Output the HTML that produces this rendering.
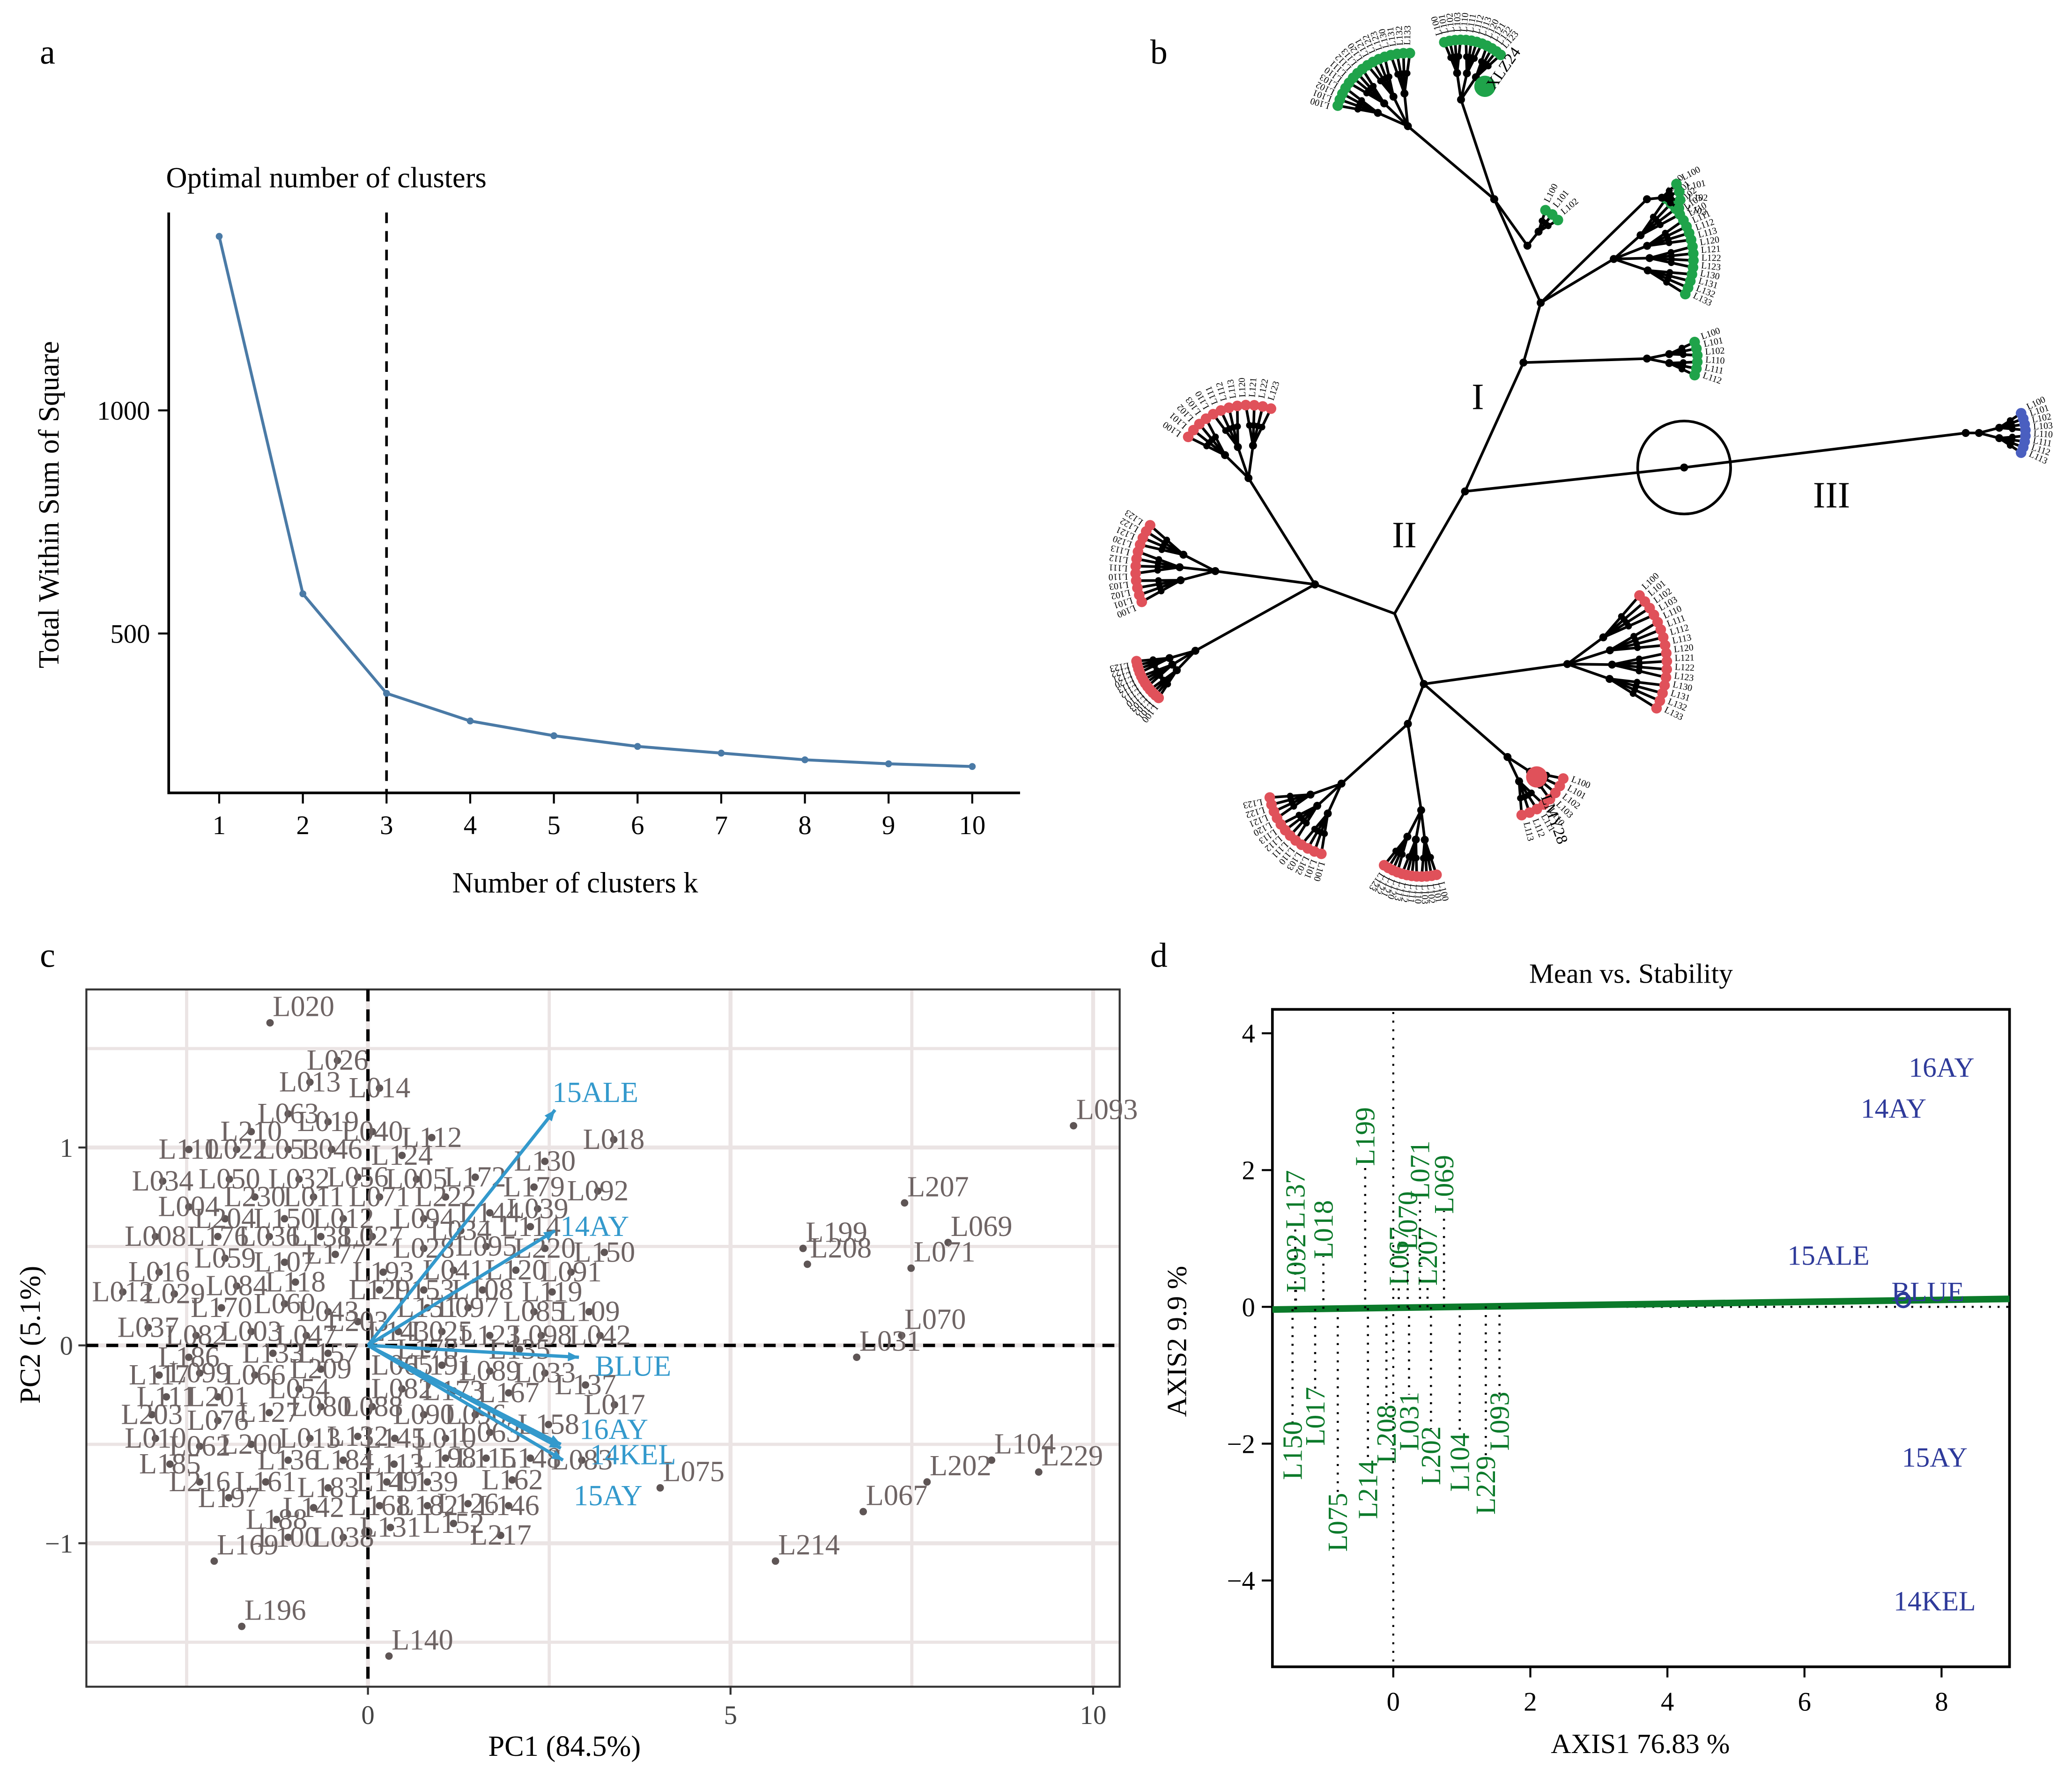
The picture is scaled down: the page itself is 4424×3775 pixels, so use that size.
<!DOCTYPE html>
<html><head><meta charset="utf-8"><style>
html,body{margin:0;padding:0;background:#fff;}
svg{display:block;font-family:"Liberation Serif",serif;}
</style></head><body>
<svg id="fig" xmlns="http://www.w3.org/2000/svg" width="4424" height="3775" viewBox="0 0 1560 1331.2">
<rect x="0" y="0" width="1560" height="1332" fill="#fff"/>
<g id="pa"></g>
<g id="pb"></g>
<g id="pc"></g>
<g id="pd"></g>
</svg>
<script>
// ---------- Panel a data ----------
const kValues = [1,2,3,4,5,6,7,8,9,10];
const wssValues = [1390,589,366,304,271,247,232,217,208,202];
const aXTicks = [1,2,3,4,5,6,7,8,9,10];
const aYTicks = [500,1000];
const optimalK = 3;

// ---------- Panel c data ----------
const pcLabels = ["L020","L026","L013","L014","L063","L019","L040","L210","L112","L110","L022","L053","L046","L124","L034","L050","L032","L056","L005","L172","L130","L179","L004","L230","L011","L071b","L222","L039","L204","L150b","L012b","L094","L144","L034b","L114","L008","L176","L036","L138","L027","L028","L095","L220","L150","L059","L107","L177","L193","L041","L120","L091","L016","L084","L118","L129","L153","L108","L119","L012","L029","L170","L060","L043","L203b","L151","L097","L085","L109","L037","L082","L003","L047","L143","L025","L123","L098","L042","L186","L133","L157","L178","L135","L117","L099","L066","L209","L065","L191","L089","L033","L137","L111","L201","L054","L082b","L173","L167","L017","L203","L076","L127","L080","L088","L090","L096","L158","L010","L062","L200","L013b","L132","L145","L010c","L063b","L185","L136","L184","L113","L198","L115","L148","L083","L216","L161","L183","L149","L139","L162","L197","L142","L168","L182","L126","L146","L188","L131","L152","L217","L100","L038","L169","L196","L140","L093","L018","L092","L207","L069","L199","L208","L071","L070","L031","L104","L229","L202","L067","L075","L214"];
const pcX = [-1.35,-0.42,-0.80,0.16,-1.10,-0.55,0.06,-1.61,0.88,-2.47,-1.81,-1.10,-0.50,0.47,-2.83,-1.91,-0.95,-0.14,0.67,1.48,2.44,2.29,-2.47,-1.56,-0.75,0.16,1.07,2.34,-1.97,-1.15,-0.34,0.77,1.68,1.28,2.24,-2.93,-2.07,-1.36,-0.65,0.06,0.77,1.63,2.44,3.26,-1.97,-1.15,-0.45,0.21,1.18,2.04,2.80,-2.88,-1.81,-1.00,0.16,0.77,1.58,2.54,-3.38,-2.67,-2.02,-1.15,-0.55,-0.14,0.82,1.38,2.29,3.05,-3.03,-2.37,-1.61,-0.85,0.42,1.02,1.68,2.39,3.20,-2.47,-1.31,-0.55,0.82,2.09,-2.88,-2.32,-1.56,-0.65,0.47,1.02,1.68,2.44,3.00,-2.78,-2.07,-0.95,0.47,1.18,1.94,3.40,-2.98,-2.07,-1.36,-0.65,0.06,0.77,1.48,2.49,-2.93,-2.32,-1.61,-0.80,-0.14,0.37,1.07,1.68,-2.73,-1.10,-0.34,0.36,1.07,1.63,2.24,2.95,-2.32,-1.41,-0.55,0.26,0.82,1.99,-1.92,-0.75,0.16,0.82,1.38,1.94,-1.26,0.31,1.18,1.83,-1.10,-0.34,-2.12,-1.74,0.29,9.73,3.39,3.17,7.40,8.00,6.00,6.06,7.49,7.36,6.74,8.60,9.25,7.71,6.83,4.03,5.62];
const pcY = [1.63,1.44,1.33,1.30,1.17,1.13,1.08,1.08,1.05,0.99,0.99,0.99,0.99,0.96,0.83,0.84,0.84,0.85,0.84,0.85,0.93,0.80,0.70,0.75,0.75,0.75,0.75,0.69,0.64,0.64,0.64,0.64,0.67,0.58,0.60,0.55,0.55,0.55,0.55,0.55,0.49,0.50,0.49,0.47,0.44,0.42,0.46,0.37,0.38,0.38,0.37,0.37,0.30,0.32,0.28,0.28,0.28,0.27,0.27,0.26,0.19,0.21,0.17,0.12,0.19,0.19,0.17,0.17,0.09,0.05,0.07,0.05,0.07,0.07,0.05,0.05,0.05,-0.06,-0.04,-0.04,-0.02,-0.02,-0.15,-0.14,-0.15,-0.12,-0.10,-0.10,-0.13,-0.14,-0.20,-0.26,-0.26,-0.22,-0.22,-0.23,-0.24,-0.30,-0.35,-0.38,-0.34,-0.31,-0.31,-0.35,-0.35,-0.40,-0.47,-0.51,-0.50,-0.47,-0.46,-0.47,-0.47,-0.44,-0.60,-0.58,-0.58,-0.60,-0.57,-0.57,-0.57,-0.58,-0.69,-0.69,-0.72,-0.69,-0.69,-0.68,-0.77,-0.82,-0.81,-0.81,-0.80,-0.81,-0.88,-0.92,-0.90,-0.96,-0.97,-0.97,-1.09,-1.42,-1.57,1.11,1.04,0.78,0.72,0.52,0.49,0.41,0.39,0.05,-0.06,-0.58,-0.64,-0.69,-0.84,-0.72,-1.09];
const envLabels = ["15ALE","14AY","BLUE","16AY","14KEL","15AY"];
const envX = [2.58,2.58,2.91,2.66,2.66,2.69];
const envY = [1.19,0.58,-0.06,-0.50,-0.52,-0.58];
const cXTicks = [0,5,10];
const cYTicks = [-1,0,1];

// ---------- Panel d data ----------
const dEnvLabels = ["16AY","14AY","15ALE","BLUE","15AY","14KEL"];
const dEnvX = [8.0,7.3,6.35,7.8,7.9,7.9];
const dEnvY = [3.5,2.9,0.75,0.22,-2.2,-4.3];
const dGenLabels = ["L199","L137","L092","L018","L067","L070","L207","L071","L069","L150","L017","L075","L214","L208","L031","L202","L104","L229","L093"];
const dGenX = [-0.41,-1.43,-1.42,-1.02,0.08,0.21,0.5,0.39,0.74,-1.47,-1.14,-0.81,-0.37,-0.1,0.23,0.55,0.97,1.35,1.55];
const dGenY = [2.49,1.57,0.64,1.13,0.74,1.26,0.74,2.0,1.79,-1.05*2,-0.8*2,-2.1*1.5,-1.67*1.6,-0.93*2,-0.76*2.2,-1.36*1.6,-1.42*1.6,-1.63*1.6,-0.76*2.2];
const dXTicks = [0,2,4,6,8];
const dYTicks = [-4,-2,0,2,4];

const NS="http://www.w3.org/2000/svg";
function mk(parent,tag,attrs,text){const e=document.createElementNS(NS,tag);for(const k in attrs)e.setAttribute(k,attrs[k]);if(text!==undefined)e.textContent=text;parent.appendChild(e);return e;}

// ===== Panel a =====
(function(){
const g=document.getElementById('pa');
const xa=k=>165+(k-1)*63, ya=v=>477-(v-500)*0.336;
let t=mk(g,'text',{x:30,y:48,'font-size':26},'a');


t=mk(g,'text',{x:125,y:141,'font-size':22},'Optimal number of clusters');


let ax=mk(g,'path',{d:'M127 160 V597 H768',fill:'none',stroke:'#000','stroke-width':2});


aXTicks.forEach(k=>{
 const l=mk(g,'line',{x1:xa(k),x2:xa(k),y1:597,y2:605,stroke:'#000','stroke-width':1.5});
 
 
 const tt=mk(g,'text',{x:xa(k),y:628,'font-size':20,'text-anchor':'middle'},String(k));
 
 
});
aYTicks.forEach(v=>{
 const l=mk(g,'line',{x1:119,x2:127,y1:ya(v),y2:ya(v),stroke:'#000','stroke-width':1.5});
 
 
 const tt=mk(g,'text',{x:113,y:ya(v)+7,'font-size':20,'text-anchor':'end'},String(v));
 
 
});
t=mk(g,'text',{x:433,y:672,'font-size':22,'text-anchor':'middle'},'Number of clusters k');


t=mk(g,'text',{x:0,y:0,'font-size':22,'text-anchor':'middle',transform:'translate(44,380) rotate(-90)'},'Total Within Sum of Square');


const dl=mk(g,'line',{x1:xa(optimalK),x2:xa(optimalK),y1:160,y2:597,stroke:'#000','stroke-width':2,'stroke-dasharray':'8,6'});


const pl=mk(g,'polyline',{points:kValues.map((k,i)=>xa(k)+','+ya(wssValues[i])).join(' '),fill:'none',stroke:'#4a7aa6','stroke-width':2.2});


kValues.forEach((k,i)=>{
 const c=mk(g,'circle',{cx:xa(k),cy:ya(wssValues[i]),r:2.6,fill:'#4a7aa6'});
 
 
});
})();

// ===== Panel b (tree diagram) =====
(function(){
const g=document.getElementById('pb');
let t=mk(g,'text',{x:866,y:48,'font-size':26},'b');


const seg=(a,b)=>mk(g,'line',{x1:a[0],y1:a[1],x2:b[0],y2:b[1],stroke:'#000','stroke-width':2});
const dot=(p,r,c)=>mk(g,'circle',{cx:p[0],cy:p[1],r:r,fill:c});
function clade(hub,center,n,rad,a0,a1,col,name){
 const cg=mk(g,'g',{});
 
 
 seg(hub,center);dot(hub,3,'#000');
 const groups=Math.max(1,Math.round(n/4));
 for(let gi=0;gi<groups;gi++){
  const ga=a0+(a1-a0)*(gi+0.5)/groups;
  const sub=[center[0]+rad*0.45*Math.cos(ga),center[1]+rad*0.45*Math.sin(ga)];
  seg(center,sub);dot(sub,3,'#000');
  const per=Math.ceil(n/groups);
  for(let j=0;j<per;j++){
   const la=a0+(a1-a0)*(gi+(j+0.5)/per)/groups;
   const lf=[center[0]+rad*Math.cos(la),center[1]+rad*Math.sin(la)];
   const mid=[(sub[0]+lf[0])/2,(sub[1]+lf[1])/2];
   seg(sub,mid);seg(mid,lf);dot(mid,2.5,'#000');dot(lf,4,col);
   const lx=lf[0]+6*Math.cos(la),ly=lf[1]+6*Math.sin(la);
   mk(g,'text',{x:lx,y:ly,'font-size':7,transform:`rotate(${la*180/Math.PI} ${lx} ${ly})`},'L'+(100+gi*10+j));
  }
 }
 dot(center,3,'#000');
}
const G='#1fa34a',R='#e0515a',B='#4a5fc0';
const root=[1103,370];
seg(root,[1268,352]);seg([1268,352],[1480,326]);
seg(root,[1147,273]);seg([1147,273],[1160,228]);seg([1160,228],[1125,150]);
seg(root,[1050,462]);seg([1050,462],[990,440]);seg([1050,462],[1072,515]);seg([1072,515],[1060,545]);
dot(root,3,'#000');dot([1268,352],3,'#000');
const circ=mk(g,'circle',{cx:1268,cy:352,r:35,fill:'none',stroke:'#000','stroke-width':2});


clade([1480,326],[1490,326],8,35,-0.5,0.5,B,'clade-iii');
clade([1147,273],[1240,270],6,38,-0.4,0.4,G,'clade-i-a');
clade([1160,228],[1215,195],14,60,-0.9,0.5,G,'clade-i-b');
clade([1160,228],[1240,150],4,25,-0.6,0.4,G,'clade-i-c');
clade([1125,150],[1150,185],3,30,-1.2,-0.6,G,'clade-i-d');
clade([1125,150],[1060,95],14,55,-2.9,-1.5,G,'clade-i-e');
clade([1125,150],[1100,75],10,45,-1.9,-0.8,G,'clade-i-f');
clade([990,440],[940,360],12,55,-2.6,-1.2,R,'clade-ii-a');
clade([990,440],[915,430],12,60,2.7,3.8,R,'clade-ii-b');
clade([990,440],[900,490],10,45,2.2,3.0,R,'clade-ii-c');
clade([1072,515],[1180,500],14,75,-0.8,0.5,R,'clade-ii-d');
clade([1072,515],[1135,570],8,45,0.3,1.4,R,'clade-ii-e');
clade([1060,545],[1010,590],12,55,1.8,3.0,R,'clade-ii-f');
clade([1060,545],[1070,610],10,50,1.3,2.2,R,'clade-ii-g');
dot([1157,585],8,R);dot([1118,65],8,G);
t=mk(g,'text',{x:1125,y:68,'font-size':12,transform:'rotate(-55 1125 68)'},'XLZ24');


t=mk(g,'text',{x:1160,y:600,'font-size':12,transform:'rotate(70 1160 600)'},'LMY28');


[['I',1108,308],['II',1048,412],['III',1365,382]].forEach(a=>{
 const tt=mk(g,'text',{x:a[1],y:a[2],'font-size':28},a[0]);
 
 
});
})();

// ===== Panel c =====
(function(){
const g=document.getElementById('pc');
const xc=v=>277+v*54.6, yc=v=>1013-v*149;
let t=mk(g,'text',{x:30,y:728,'font-size':26},'c');


[-2.5,0,2.5,5,7.5,10].forEach(v=>{const l=mk(g,'line',{x1:xc(v),x2:xc(v),y1:745,y2:1270,stroke:'#ebe4e4','stroke-width':v%5===0?3:2.4});});
[-1.5,-1,-0.5,0,0.5,1,1.5].forEach(v=>{const l=mk(g,'line',{x1:65,x2:843,y1:yc(v),y2:yc(v),stroke:'#ebe4e4','stroke-width':Number.isInteger(v)?3:2.4});});
let b=mk(g,'rect',{x:65,y:745,width:778,height:525,fill:'none',stroke:'#333','stroke-width':1.5});


mk(g,'line',{x1:xc(0),x2:xc(0),y1:745,y2:1270,stroke:'#000','stroke-width':2.5,'stroke-dasharray':'9,6'});
mk(g,'line',{x1:65,x2:843,y1:yc(0),y2:yc(0),stroke:'#000','stroke-width':2.5,'stroke-dasharray':'9,6'});
cXTicks.forEach(v=>{
 mk(g,'line',{x1:xc(v),x2:xc(v),y1:1270,y2:1276,stroke:'#333','stroke-width':1.5});
 const tt=mk(g,'text',{x:xc(v),y:1298,'font-size':20,'text-anchor':'middle',fill:'#444'},String(v));
 
 
});
cYTicks.forEach(v=>{
 mk(g,'line',{x1:59,x2:65,y1:yc(v),y2:yc(v),stroke:'#333','stroke-width':1.5});
 const tt=mk(g,'text',{x:55,y:yc(v)+7,'font-size':20,'text-anchor':'end',fill:'#444'},v<0?'\u2212'+(-v):String(v));
 
 
});
t=mk(g,'text',{x:425,y:1322,'font-size':22,'text-anchor':'middle'},'PC1 (84.5%)');


t=mk(g,'text',{x:0,y:0,'font-size':22,'text-anchor':'middle',transform:'translate(30,1005) rotate(-90)'},'PC2 (5.1%)');


pcLabels.forEach((lab,i)=>{
 const c=mk(g,'circle',{cx:xc(pcX[i]),cy:yc(pcY[i]),r:2.8,fill:'#5e5555'});
 
 
 const outer=pcX[i]>3.6||pcY[i]<-1||pcY[i]>1.5;
 const tt=mk(g,'text',{x:xc(pcX[i])+(outer?2:0),y:yc(pcY[i])+(outer?-5:7),'font-size':22,'text-anchor':outer?'start':'middle',fill:'#6e6464'},lab.replace(/[bc]$/,''));
 
 
});
envLabels.forEach((lab,i)=>{
 const x2=xc(envX[i]),y2=yc(envY[i]),x1=xc(0),y1=yc(0);
 const l=mk(g,'line',{x1:x1,y1:y1,x2:x2,y2:y2,stroke:'#3399cc','stroke-width':2.5});
 
 
 const a=Math.atan2(y2-y1,x2-x1);
 const p=[[x2,y2],[x2-9*Math.cos(a-0.4),y2-9*Math.sin(a-0.4)],[x2-9*Math.cos(a+0.4),y2-9*Math.sin(a+0.4)]];
 mk(g,'polygon',{points:p.map(q=>q.join(',')).join(' '),fill:'#3399cc'});
 const off={"15ALE":[-2,-6],"14AY":[4,4],"BLUE":[12,14],"16AY":[14,-4],"14KEL":[22,12],"15AY":[8,34]}[lab]||[4,4];
 const tt=mk(g,'text',{x:x2+off[0],y:y2+off[1],'font-size':22,fill:'#3399cc'},lab);
 
 
});
})();

// ===== Panel d =====
(function(){
const g=document.getElementById('pd');
const xd=v=>1049+v*51.6, yd=v=>984-v*51.5;
let t=mk(g,'text',{x:866,y:728,'font-size':26},'d');


t=mk(g,'text',{x:1228,y:740,'font-size':21,'text-anchor':'middle'},'Mean vs. Stability');


let b=mk(g,'rect',{x:958,y:760,width:555,height:495,fill:'none',stroke:'#000','stroke-width':2});


dXTicks.forEach(v=>{
 mk(g,'line',{x1:xd(v),x2:xd(v),y1:1255,y2:1263,stroke:'#000','stroke-width':1.5});
 const tt=mk(g,'text',{x:xd(v),y:1288,'font-size':20,'text-anchor':'middle'},String(v));
 
 
});
dYTicks.forEach(v=>{
 mk(g,'line',{x1:950,x2:958,y1:yd(v),y2:yd(v),stroke:'#000','stroke-width':1.5});
 const tt=mk(g,'text',{x:945,y:yd(v)+7,'font-size':20,'text-anchor':'end'},v<0?'\u2212'+(-v):String(v));
 
 
});
t=mk(g,'text',{x:1235,y:1320,'font-size':21,'text-anchor':'middle'},'AXIS1 76.83 %');


t=mk(g,'text',{x:0,y:0,'font-size':21,'text-anchor':'middle',transform:'translate(893,1010) rotate(-90)'},'AXIS2 9.9 %');


mk(g,'line',{x1:xd(0),x2:xd(0),y1:762,y2:1255,stroke:'#000','stroke-width':1.5,'stroke-dasharray':'1.5,5'});
mk(g,'line',{x1:xd(0),x2:1513,y1:yd(0),y2:yd(0),stroke:'#000','stroke-width':1.5,'stroke-dasharray':'1.5,5'});
const ax=mk(g,'line',{x1:958,y1:986,x2:1513,y2:978,stroke:'#0b7a2a','stroke-width':5});


const slope=(978-986)/(1513-958);
dGenLabels.forEach((lab,i)=>{
 const x=xd(dGenX[i]),y=yd(dGenY[i]);
 const ly=986+(x-958)*slope;
 const l=mk(g,'line',{x1:x,x2:x,y1:ly,y2:y+(dGenY[i]>0?20:-20),stroke:'#000','stroke-width':1.6,'stroke-dasharray':'1.5,5'});
 
 
 const tt=mk(g,'text',{x:0,y:0,'font-size':21,'text-anchor':'middle',fill:'#0b7a2a',transform:`translate(${x+7},${y}) rotate(-90)`},lab);
 
 
});
dEnvLabels.forEach((lab,i)=>{
 const tt=mk(g,'text',{x:xd(dEnvX[i]),y:yd(dEnvY[i])+7,'font-size':21,'text-anchor':'middle',fill:'#2e3a9a'},lab);
 
 
});
const c=mk(g,'circle',{cx:1433,cy:979,r:5,fill:'none',stroke:'#2e3a9a','stroke-width':2});


})();
</script>
</body></html>
